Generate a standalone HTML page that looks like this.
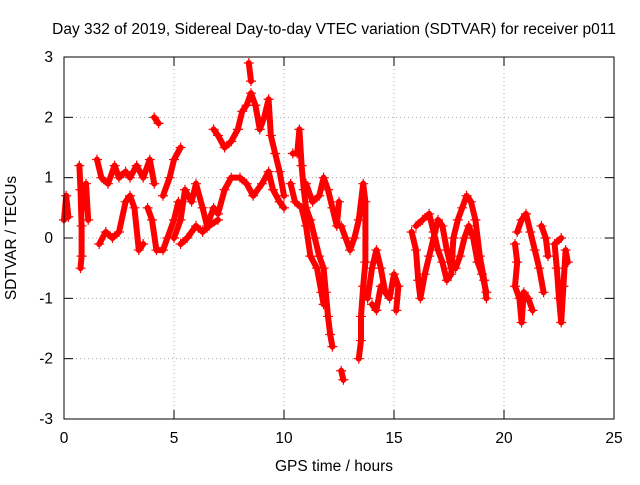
<!DOCTYPE html>
<html><head><meta charset="utf-8"><style>
body{margin:0;background:#fff}
svg{font-family:"Liberation Sans",sans-serif;font-size:15.5px}
</style></head><body>
<svg id="c" width="640" height="480">
<text x="334" y="34" text-anchor="middle">Day 332 of 2019, Sidereal Day-to-day VTEC variation (SDTVAR) for receiver p011</text>
<text x="334" y="471" text-anchor="middle">GPS time / hours</text>
<text transform="translate(16,238) rotate(-90)" text-anchor="middle">SDTVAR / TECUs</text>
<g id="grid"></g><g id="data"></g>
<rect x="64" y="57" width="550" height="362" fill="none" stroke="#000"/>
</svg>
<script>
const xTicks=[0,5,10,15,20,25];
const yTicks=[-3,-2,-1,0,1,2,3];
const tracks=[
[[0,0.3],[0.1,0.7],[0.2,0.35]],
[[0.7,1.2],[0.75,0.8],[0.8,0.2],[0.8,-0.3],[0.75,-0.5]],
[[0.9,0.5],[1.0,0.9],[1.1,0.3]],
[[1.5,1.3],[1.7,1.0],[2.0,0.9],[2.3,1.2],[2.5,1.0],[2.8,1.1],[3.0,1.0],[3.3,1.2],[3.6,1.0],[3.9,1.3],[4.1,0.9]],
[[1.6,-0.1],[1.9,0.1],[2.2,0.0],[2.5,0.1],[2.8,0.6],[3.0,0.7],[3.2,0.5],[3.4,-0.2],[3.6,-0.1]],
[[4.1,2.0],[4.3,1.9]],
[[3.8,0.5],[4.0,0.3],[4.2,-0.2],[4.5,-0.2],[4.7,0.0],[5,0.3],[5.2,0.6]],
[[4.5,0.7],[4.8,1.0],[5.0,1.3],[5.3,1.5]],
[[5.0,0.0],[5.3,0.3],[5.5,0.8],[5.8,0.6],[6.0,0.9],[6.3,0.5],[6.5,0.2],[6.8,0.5],[7.0,0.4],[7.3,0.8],[7.6,1.0],[8,1.0],[8.3,0.9],[8.6,0.7],[9.0,0.9],[9.3,1.1],[9.5,0.8],[9.8,0.6],[10,0.5]],
[[5.3,-0.1],[5.6,0.0],[6.0,0.2],[6.3,0.1],[6.6,0.2],[7.0,0.3]],
[[6.8,1.8],[7.0,1.7],[7.3,1.5],[7.6,1.6],[7.9,1.8],[8.1,2.1],[8.3,2.2],[8.5,2.4],[8.7,2.2],[8.9,1.8],[9.1,2.0],[9.3,2.3],[9.4,1.7],[9.6,1.4],[9.8,1.1],[10.0,0.7]],
[[8.4,2.9],[8.5,2.6]],
[[10.4,1.4],[10.6,1.4],[10.7,1.8],[10.8,1.2],[10.9,0.8],[11.0,0.5],[11.2,0.3],[11.4,0.0],[11.6,-0.3],[11.8,-0.5],[11.9,-0.9],[12.0,-1.3],[12.1,-1.6],[12.2,-1.8]],
[[10.3,0.9],[10.5,0.6],[10.8,0.5],[11.0,0.2],[11.2,-0.3],[11.5,-0.5],[11.7,-0.9],[11.8,-1.1]],
[[11.0,0.9],[11.3,0.6],[11.6,0.7],[11.8,1.0],[12.0,0.8],[12.2,0.5],[12.4,0.2],[12.5,0.6]],
[[12.6,-2.2],[12.7,-2.35]],
[[12.6,0.2],[12.8,0.0],[13.0,-0.2],[13.2,0.0],[13.4,0.3],[13.6,0.9],[13.7,0.6],[13.7,-0.4],[13.6,-0.8],[13.5,-1.3],[13.5,-1.7],[13.4,-2.0]],
[[13.8,-1.0],[14.0,-0.5],[14.2,-0.2],[14.4,-0.5],[14.6,-0.9],[14.8,-1.0],[15.0,-0.6],[15.2,-0.8],[15.1,-1.2]],
[[14.0,-1.1],[14.2,-1.2],[14.4,-0.8]],
[[15.8,0.1],[16.0,-0.2],[16.1,-0.7],[16.2,-1.0],[16.4,-0.6],[16.6,-0.3],[16.8,0.0],[17.0,0.3],[17.2,0.2],[17.4,-0.2],[17.6,-0.5],[17.8,-0.5],[18.0,-0.3],[18.2,0.0],[18.4,0.2],[18.6,0.0],[18.8,-0.4],[19.0,-0.6],[19.2,-0.9]],
[[16.0,0.2],[16.3,0.3],[16.6,0.4],[16.8,0.1],[17.0,-0.2],[17.2,-0.4],[17.4,-0.7],[17.6,-0.6],[17.7,0.0],[17.9,0.3],[18.1,0.5],[18.3,0.7],[18.5,0.6],[18.7,0.3],[18.9,-0.3],[19.1,-0.7],[19.2,-1.0]],
[[20.5,-0.1],[20.6,-0.4],[20.5,-0.8],[20.7,-1.0],[20.8,-1.4],[20.9,-0.9],[21.1,-1.0],[21.3,-1.2]],
[[20.6,0.1],[20.8,0.3],[21.0,0.4],[21.2,0.1],[21.4,-0.2],[21.6,-0.5],[21.8,-0.9]],
[[21.7,0.2],[21.9,0.0],[22.0,-0.3]],
[[22.6,0.0],[22.3,-0.1],[22.4,-0.5],[22.5,-1.0],[22.6,-1.4],[22.7,-0.8],[22.8,-0.2],[22.9,-0.4]]
];
const NS="http://www.w3.org/2000/svg";
const X=h=>64+h*22, Y=v=>238-v*60.333;
const g=document.getElementById('grid'), d=document.getElementById('data');
function mk(tag,attrs,parent){const e=document.createElementNS(NS,tag);for(const k in attrs)e.setAttribute(k,attrs[k]);parent.appendChild(e);return e;}
xTicks.forEach(t=>{
  const x=X(t);
  if(t>0&&t<25){const l=mk('line',{x1:x,x2:x,y1:57,y2:419,stroke:'#aaa','stroke-dasharray':'1,3'},g);
  
  }
  mk('line',{x1:x,x2:x,y1:419,y2:410,stroke:'#000'},g);
  mk('line',{x1:x,x2:x,y1:57,y2:66,stroke:'#000'},g);
  const tx=mk('text',{x:x,y:443,'text-anchor':'middle'},g);tx.textContent=t;
  
  
});
yTicks.forEach(t=>{
  const y=Y(t);
  if(t>-3&&t<3){const l=mk('line',{x1:64,x2:614,y1:y,y2:y,stroke:'#aaa','stroke-dasharray':'1,3'},g);
  
  }
  mk('line',{x1:64,x2:73,y1:y,y2:y,stroke:'#000'},g);
  mk('line',{x1:605,x2:614,y1:y,y2:y,stroke:'#000'},g);
  const tx=mk('text',{x:53,y:y+5,'text-anchor':'end'},g);tx.textContent=t;
  
  
});
tracks.forEach(tr=>{
  const pl=mk('polyline',{points:tr.map(p=>X(p[0])+','+Y(p[1])).join(' '),fill:'none',stroke:'#f00','stroke-width':6,'stroke-linejoin':'round','stroke-linecap':'round'},d);
  
  
  tr.forEach(p=>{
    const x=X(p[0]),y=Y(p[1]);
    const m=mk('path',{d:`M${x-5},${y}H${x+5}M${x},${y-5}V${y+5}`,stroke:'#f00','stroke-width':1.2},d);
    
    
  });
});
</script>
</body></html>
